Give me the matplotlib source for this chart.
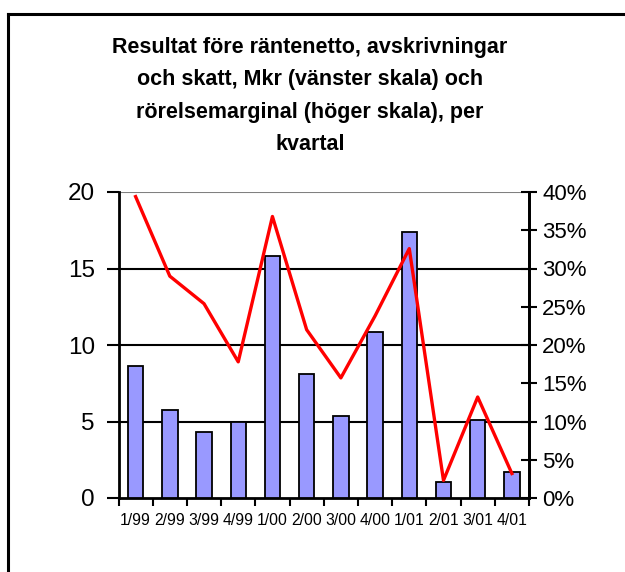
import matplotlib
matplotlib.use("Agg")
import matplotlib.pyplot as plt
import numpy as np
from matplotlib.lines import Line2D

plt.rcParams['font.family'] = ['Liberation Sans', 'DejaVu Sans']

# quarters
kvartal = ['1/99', '2/99', '3/99', '4/99', '1/00', '2/00', '3/00', '4/00',
           '1/01', '2/01', '3/01', '4/01']
# resultat, Mkr (left scale)
resultat = [8.65, 5.75, 4.33, 5.0, 15.8, 8.12, 5.36, 10.87, 17.39, 1.05, 5.1, 1.7]
# rorelsemarginal, % (right scale)
marginal = [39.4, 29.0, 25.4, 17.8, 36.8, 22.0, 15.7, 23.8, 32.6, 2.3, 13.2, 3.2]

W, H = 625, 572
fig = plt.figure(figsize=(W / 100, H / 100), dpi=100)
ax = fig.add_axes([118.5 / W, 1 - 498 / H, (529 - 118.5) / W, (498 - 192) / H])

x = np.arange(len(kvartal))
ax.bar(x, resultat, width=0.45, color='#9999ff', edgecolor='black', linewidth=1.3, zorder=3)
ax.set_xlim(-0.5, len(kvartal) - 0.5)
ax.set_ylim(0, 20)
ax.set_yticks([0, 5, 10, 15, 20])
ax.tick_params(axis='y', labelsize=17.5, direction='out', length=9, width=1.5, pad=8)
for g in [5, 10, 15]:
    ax.axhline(g, color='black', linewidth=1.5, zorder=1)
ax.axhline(20, color='#808080', linewidth=1.5, zorder=1)

ax.set_xticks(x)
ax.set_xticklabels(kvartal, fontsize=11.3)
ax.set_xticks(np.arange(-0.5, len(kvartal)), minor=True)
ax.tick_params(axis='x', which='major', length=0, pad=11)
ax.tick_params(axis='x', which='minor', length=6, width=1.5, direction='out')

ax.spines['top'].set_visible(False)
for s in ['left', 'right', 'bottom']:
    ax.spines[s].set_linewidth(2)

ax2 = ax.twinx()
ax2.plot(x, marginal, color='#ff0000', linewidth=2.4, zorder=4)
ax2.set_ylim(0, 40)
ax2.set_yticks(np.arange(0, 41, 5))
ax2.set_yticklabels([f'{v}%' for v in range(0, 41, 5)])
ax2.tick_params(axis='y', labelsize=16, direction='inout', length=11, width=1.5, pad=4)
for s in ['top', 'left', 'bottom']:
    ax2.spines[s].set_visible(False)
ax2.spines['right'].set_linewidth(2)

fig.text(310 / W, 1 - 96 / H,
         'Resultat före räntenetto, avskrivningar\noch skatt, Mkr (vänster skala) och\n'
         'rörelsemarginal (höger skala), per\nkvartal',
         ha='center', va='center', fontsize=15.5, fontweight='bold', linespacing=1.72)

# outer frame (top and left edges visible)
fig.add_artist(Line2D([7.5 / W, 7.5 / W], [0, 1 - 13.5 / H], color='black', linewidth=2.2,
                      transform=fig.transFigure))
fig.add_artist(Line2D([7.5 / W, 1], [1 - 13.5 / H, 1 - 13.5 / H], color='black', linewidth=2.2,
                      transform=fig.transFigure))

fig.savefig('out.png', dpi=100)
